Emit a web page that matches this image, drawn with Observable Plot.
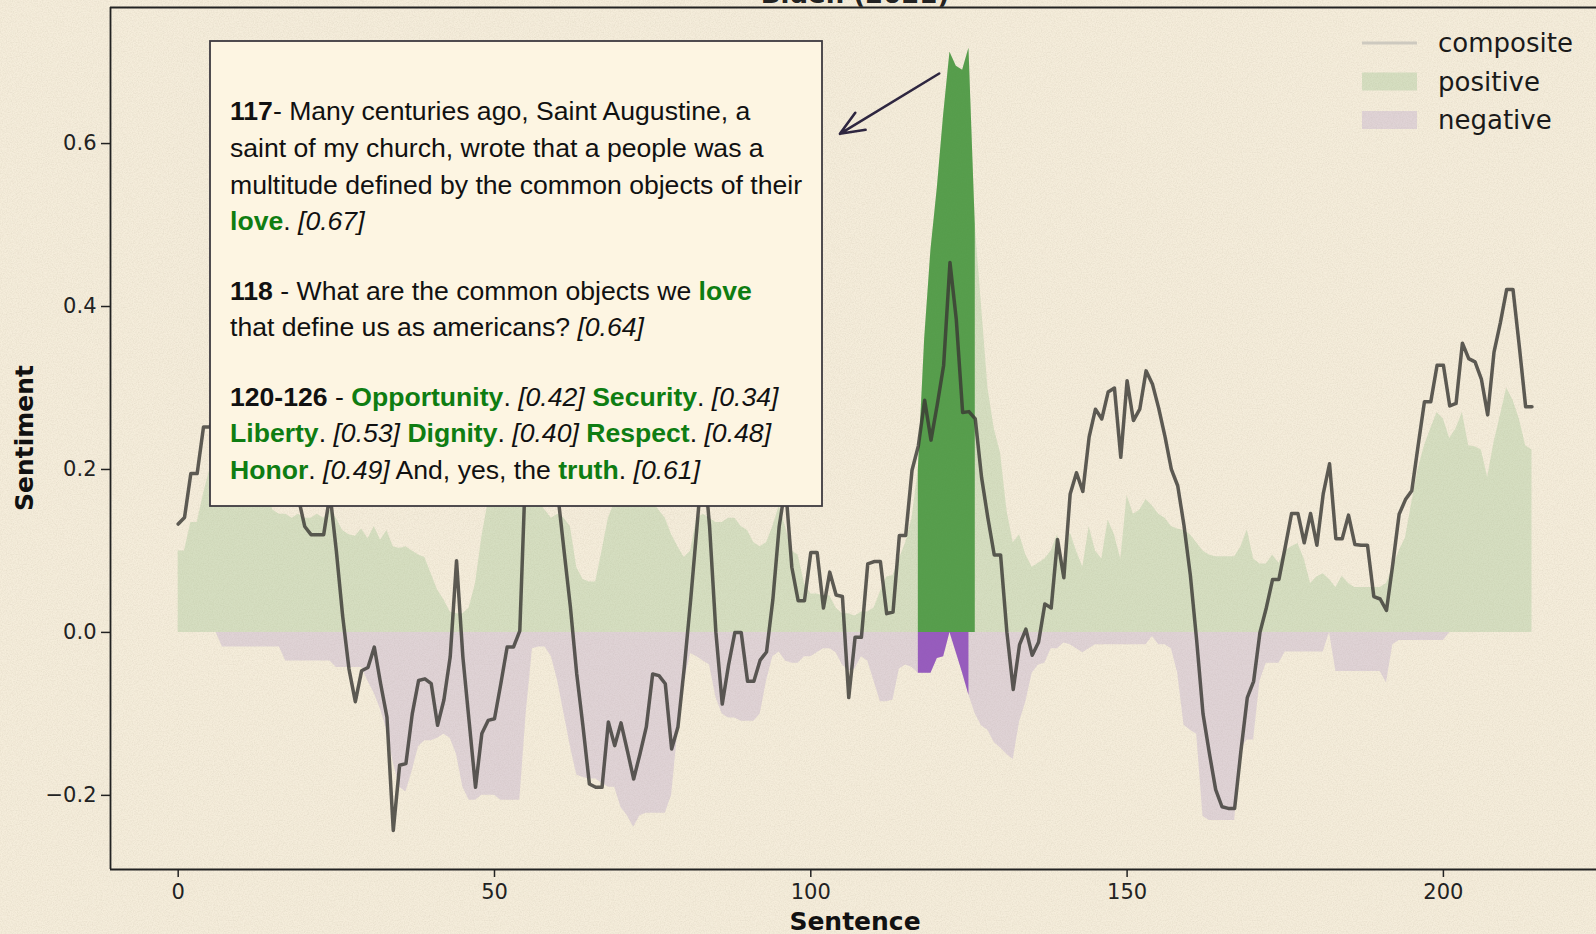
<!DOCTYPE html>
<html><head><meta charset="utf-8">
<script src="https://cdn.jsdelivr.net/npm/d3@7"></script>
<script src="https://cdn.jsdelivr.net/npm/@observablehq/plot@0.6"></script>
<style>
html,body{margin:0;padding:0;}
body{width:1596px;height:934px;overflow:hidden;position:relative;background-color:#f5eddb;
background-image:url("data:image/svg+xml,%3Csvg xmlns='http://www.w3.org/2000/svg' width='256' height='256'%3E%3Cfilter id='n'%3E%3CfeTurbulence type='fractalNoise' baseFrequency='0.8' numOctaves='3' stitchTiles='stitch'/%3E%3CfeColorMatrix values='0 0 0 0 0.4 0 0 0 0 0.35 0 0 0 0 0.25 0.3 0 0 0 -0.1'/%3E%3C/filter%3E%3Crect width='100%25' height='100%25' filter='url(%23n)'/%3E%3C/svg%3E");}
#chart svg{display:block}
</style></head><body><div id="chart"></div>
<script>
// ---- data ----
const composite = [0.133,0.141,0.195,0.195,0.252,0.252,0.27,0.3,0.28,0.33,
0.36,0.34,0.3,0.32,0.28,0.26,0.24,0.22,0.2,0.165,
0.13,0.12,0.12,0.12,0.17,0.1,0.02,-0.045,-0.085,-0.047,
-0.043,-0.018,-0.063,-0.104,-0.243,-0.163,-0.161,-0.1,-0.059,-0.057,
-0.063,-0.114,-0.083,-0.03,0.088,-0.03,-0.11,-0.19,-0.124,-0.108,
-0.106,-0.063,-0.018,-0.018,0.002,0.22,0.3,0.26,0.32,0.24,
0.17,0.1,0.031,-0.051,-0.116,-0.186,-0.19,-0.19,-0.11,-0.139,
-0.111,-0.145,-0.18,-0.149,-0.116,-0.051,-0.053,-0.063,-0.143,-0.116,
-0.043,0.039,0.129,0.22,0.13,0.0,-0.088,-0.04,0.0,0.0,
-0.06,-0.06,-0.034,-0.024,0.04,0.13,0.18,0.08,0.039,0.039,
0.098,0.098,0.03,0.074,0.046,0.044,-0.08,-0.006,-0.006,0.084,
0.087,0.087,0.023,0.025,0.119,0.119,0.199,0.229,0.285,0.236,
0.28,0.328,0.454,0.384,0.27,0.271,0.262,0.19,0.14,0.095,
0.095,0.0,-0.07,-0.015,0.004,-0.028,-0.012,0.035,0.03,0.114,
0.067,0.17,0.196,0.173,0.24,0.274,0.262,0.295,0.3,0.215,
0.309,0.26,0.274,0.321,0.305,0.275,0.24,0.2,0.18,0.131,
0.07,-0.01,-0.1,-0.148,-0.193,-0.214,-0.216,-0.216,-0.145,-0.08,
-0.06,0.0,0.03,0.065,0.065,0.105,0.146,0.146,0.11,0.146,
0.107,0.17,0.207,0.115,0.115,0.144,0.108,0.107,0.107,0.044,
0.041,0.027,0.084,0.145,0.163,0.174,0.229,0.283,0.283,0.328,
0.328,0.278,0.281,0.355,0.336,0.332,0.311,0.267,0.344,0.38,
0.421,0.421,0.351,0.277,0.277];

const positive = [0.1,0.1,0.135,0.135,0.17,0.2,0.22,0.24,0.22,0.25,
0.26,0.24,0.22,0.21,0.17,0.15,0.145,0.145,0.14,0.145,
0.14,0.14,0.145,0.14,0.15,0.14,0.125,0.12,0.118,0.127,
0.115,0.13,0.113,0.125,0.105,0.103,0.105,0.1,0.095,0.092,
0.072,0.052,0.04,0.025,0.023,0.023,0.03,0.06,0.117,0.16,
0.18,0.2,0.2,0.2,0.19,0.18,0.17,0.16,0.15,0.14,
0.145,0.14,0.13,0.08,0.065,0.062,0.062,0.1,0.14,0.16,
0.165,0.17,0.16,0.16,0.165,0.16,0.15,0.14,0.12,0.105,
0.092,0.1,0.14,0.145,0.14,0.135,0.135,0.14,0.14,0.13,
0.125,0.11,0.105,0.11,0.13,0.155,0.13,0.1,0.095,0.06,
0.047,0.047,0.045,0.045,0.03,0.023,0.023,0.02,0.025,0.025,
0.03,0.05,0.068,0.07,0.09,0.11,0.14,0.2,0.36,0.47,
0.545,0.635,0.712,0.695,0.69,0.717,0.5,0.4,0.3,0.25,
0.22,0.15,0.11,0.12,0.095,0.08,0.085,0.09,0.1,0.12,
0.08,0.123,0.1,0.08,0.13,0.1,0.09,0.138,0.12,0.09,
0.168,0.145,0.15,0.163,0.155,0.145,0.14,0.13,0.127,0.125,
0.12,0.11,0.1,0.095,0.093,0.093,0.093,0.093,0.105,0.126,
0.09,0.084,0.084,0.095,0.085,0.1,0.105,0.109,0.09,0.06,
0.068,0.072,0.065,0.055,0.069,0.06,0.055,0.055,0.055,0.055,
0.055,0.06,0.079,0.1,0.116,0.159,0.2,0.229,0.25,0.27,
0.262,0.238,0.25,0.27,0.229,0.228,0.224,0.19,0.233,0.266,
0.3,0.285,0.262,0.229,0.224];

const negative = [0,0,0,0,0,0,0,-0.018,-0.018,-0.018,
-0.018,-0.018,-0.018,-0.018,-0.018,-0.018,-0.018,-0.035,-0.035,-0.035,
-0.035,-0.035,-0.035,-0.035,-0.035,-0.043,-0.043,-0.043,-0.043,-0.043,
-0.06,-0.075,-0.095,-0.12,-0.16,-0.19,-0.196,-0.17,-0.14,-0.133,
-0.133,-0.13,-0.125,-0.13,-0.15,-0.19,-0.206,-0.206,-0.2,-0.2,
-0.2,-0.206,-0.206,-0.206,-0.206,-0.1,-0.02,-0.018,-0.018,-0.03,
-0.06,-0.1,-0.14,-0.175,-0.178,-0.18,-0.18,-0.185,-0.19,-0.19,
-0.215,-0.225,-0.239,-0.225,-0.222,-0.222,-0.222,-0.222,-0.2,-0.12,
-0.06,-0.026,-0.03,-0.035,-0.04,-0.08,-0.1,-0.105,-0.105,-0.109,
-0.109,-0.109,-0.1,-0.06,-0.03,-0.024,-0.035,-0.038,-0.038,-0.03,
-0.03,-0.025,-0.02,-0.02,-0.025,-0.04,-0.047,-0.045,-0.03,-0.035,
-0.06,-0.085,-0.085,-0.083,-0.045,-0.04,-0.043,-0.05,-0.05,-0.05,
-0.032,-0.03,0,-0.025,-0.05,-0.077,-0.1,-0.115,-0.12,-0.135,
-0.142,-0.15,-0.156,-0.11,-0.085,-0.05,-0.04,-0.038,-0.02,-0.02,
-0.013,-0.015,-0.02,-0.025,-0.02,-0.015,-0.015,-0.015,-0.015,-0.015,
-0.015,-0.015,-0.015,-0.015,-0.005,-0.015,-0.015,-0.02,-0.05,-0.114,
-0.12,-0.125,-0.226,-0.231,-0.231,-0.231,-0.231,-0.231,-0.142,-0.132,
-0.132,-0.06,-0.038,-0.038,-0.038,-0.024,-0.024,-0.024,-0.024,-0.024,
-0.024,-0.024,0,-0.048,-0.048,-0.048,-0.048,-0.048,-0.048,-0.048,
-0.048,-0.062,-0.015,-0.01,-0.01,-0.01,-0.01,-0.01,-0.01,-0.01,
-0.01,0,0,0,0,0,0,0,0,0,
0,0,0,0,0];

const highlightPos = [117, 126];
const highlightNeg = [117, 125];
const xTicks = [0, 50, 100, 150, 200];
const yTicks = [-0.2, 0, 0.2, 0.4, 0.6];
const legendLabels = ["composite", "positive", "negative"];
const arrowFrom = [120.3, 0.686];
const arrowTo = [104.6, 0.612];
const titleText = "Biden (2021)";
const xLabel = "Sentence";
const yLabel = "Sentiment";
// annotation paragraphs: [text, style] with b=bold, g=green bold, i=italic
const annotationLines = [
  [["117","b"],["- Many centuries ago, Saint Augustine, a",""]],
  [["saint of my church, wrote that a people was a",""]],
  [["multitude defined by the common objects of their",""]],
  [["love","g"],[". ",""],["[0.67]","i"]],
  null,
  [["118","b"],[" - What are the common objects we ",""],["love","g"]],
  [["that define us as americans? ",""],["[0.64]","i"]],
  null,
  [["120-126","b"],[" - ",""],["Opportunity","g"],[". ",""],["[0.42]","i"],[" ",""],["Security","g"],[". ",""],["[0.34]","i"]],
  [["Liberty","g"],[". ",""],["[0.53]","i"],[" ",""],["Dignity","g"],[". ",""],["[0.40]","i"],[" ",""],["Respect","g"],[". ",""],["[0.48]","i"]],
  [["Honor","g"],[". ",""],["[0.49]","i"],[" And, yes, the ",""],["truth","g"],[". ",""],["[0.61]","i"]]
];

const data = composite.map((c, i) => ({s: i, comp: c, pos: positive[i], neg: negative[i]}));
const xDomain = [-10.7, 224.2];
const yDomain = [-0.291, 0.767];

const C = {
  posLight: "#8ebc83", negLight: "#b097c9",
  posDark: "#378d30", negDark: "#853eb7",
  line: "#3b3934", axis: "#222222"
};

const plot = Plot.plot({
  width: 1596, height: 934,
  marginTop: 7, marginRight: 0, marginBottom: 65, marginLeft: 110,
  style: {background: "transparent", fontFamily: "'DejaVu Sans', sans-serif", fontSize: "21px", color: C.axis, overflow: "visible"},
  x: {domain: xDomain},
  y: {domain: yDomain},
  marks: [
    Plot.areaY(data, {x: "s", y: "pos", fill: C.posLight, fillOpacity: 0.3}),
    Plot.areaY(data, {x: "s", y: "neg", fill: C.negLight, fillOpacity: 0.3}),
    Plot.areaY(data.filter(d => d.s >= highlightPos[0] && d.s <= highlightPos[1]), {x: "s", y: "pos", fill: C.posDark, fillOpacity: 0.8}),
    Plot.areaY(data.filter(d => d.s >= highlightNeg[0] && d.s <= highlightNeg[1]), {x: "s", y: "neg", fill: C.negDark, fillOpacity: 0.8}),
    Plot.line(data, {x: "s", y: "comp", stroke: C.line, strokeOpacity: 0.82, strokeWidth: 3.5, strokeLinejoin: "round"}),
    Plot.axisX({ticks: xTicks, tickSize: 8, tickPadding: 7, label: null, tickFormat: d3.format("d"), strokeWidth: 1.5, fontSize: 21}),
    Plot.axisY({ticks: yTicks, tickSize: 9, tickPadding: 5, label: null, tickFormat: d3.format(".1f"), strokeWidth: 1.5, fontSize: 21}),
    Plot.ruleX([xDomain[0]], {stroke: C.axis, strokeWidth: 1.8}),
    Plot.ruleY([yDomain[0], yDomain[1]], {stroke: C.axis, strokeWidth: 1.8}),
    Plot.arrow([{x1: arrowFrom[0], y1: arrowFrom[1], x2: arrowTo[0], y2: arrowTo[1]}],
      {x1: "x1", y1: "y1", x2: "x2", y2: "y2", stroke: "#2e2640", strokeWidth: 2.6, headLength: 15, headAngle: 45})
  ]
});
document.getElementById("chart").appendChild(plot);

const svg = d3.select(plot);

// title (cut off at the top edge, as in the reference)
svg.append("text").attr("x", 855).attr("y", 3).attr("text-anchor", "middle")
  .attr("font-family", "'DejaVu Sans', sans-serif").attr("font-weight", "bold").attr("font-size", 26)
  .attr("fill", "#222").text(titleText);

// axis labels
svg.append("text").attr("x", 855).attr("y", 930).attr("text-anchor", "middle")
  .attr("font-family", "'DejaVu Sans', sans-serif").attr("font-weight", "bold").attr("font-size", 25)
  .attr("fill", "#111").text(xLabel);
svg.append("text").attr("transform", "translate(33,438) rotate(-90)").attr("text-anchor", "middle")
  .attr("font-family", "'DejaVu Sans', sans-serif").attr("font-weight", "bold").attr("font-size", 25)
  .attr("fill", "#111").text(yLabel);

// annotation box
const box = svg.append("g").attr("text-anchor", "start");
box.append("rect").attr("x", 210).attr("y", 41).attr("width", 612).attr("height", 465)
  .attr("fill", "#fdf5e2").attr("stroke", "#3d3a40").attr("stroke-width", 1.8);
const lineStep = 36.6;
let yy = 120.3;
annotationLines.forEach(line => {
  if (line) {
    const t = box.append("text").attr("x", 230).attr("y", yy).attr("text-anchor", "start")
      .attr("font-family", "'Liberation Sans', Arial, sans-serif").attr("font-size", 26.6).attr("fill", "#111")
      .style("white-space", "pre");
    line.forEach(([s, st]) => {
      const sp = t.append("tspan").text(s);
      if (st === "b") sp.attr("font-weight", "bold");
      if (st === "g") sp.attr("font-weight", "bold").attr("fill", "#0f7d12");
      if (st === "i") sp.attr("font-style", "italic");
    });
    yy += lineStep;
  } else {
    yy += lineStep * 0.9;
  }
});

// legend
const lg = svg.append("g").attr("text-anchor", "start").attr("font-family", "'DejaVu Sans', sans-serif").attr("font-size", 26).attr("fill", "#1a1a1a");
const legendY = [43, 81.5, 120];
lg.append("line").attr("x1", 1362).attr("x2", 1417).attr("y1", legendY[0]).attr("y2", legendY[0])
  .attr("stroke", "#cdc9bf").attr("stroke-width", 3);
lg.append("rect").attr("x", 1362).attr("y", legendY[1] - 9).attr("width", 55).attr("height", 18)
  .attr("fill", C.posLight).attr("fill-opacity", 0.3);
lg.append("rect").attr("x", 1362).attr("y", legendY[2] - 9).attr("width", 55).attr("height", 18)
  .attr("fill", C.negLight).attr("fill-opacity", 0.3);
legendLabels.forEach((l, i) => {
  lg.append("text").attr("x", 1438).attr("y", legendY[i]).attr("dy", "0.35em").attr("text-anchor", "start").text(l);
});
</script>
</body></html>
